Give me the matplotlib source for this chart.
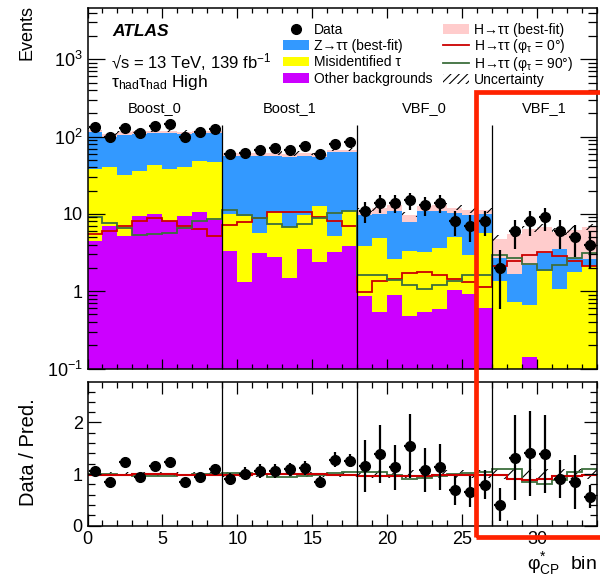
import numpy as np
import matplotlib.pyplot as plt
from matplotlib.patches import Patch, Rectangle
from matplotlib.lines import Line2D
from matplotlib.ticker import MultipleLocator, LogLocator, NullFormatter

plt.rcParams['font.family'] = ['Liberation Sans', 'DejaVu Sans']
plt.rcParams['mathtext.default'] = 'regular'
plt.rcParams['hatch.linewidth'] = 0.8

# 34 phi*_CP bins: Boost_0 (0-8), Boost_1 (9-17), VBF_0 (18-26), VBF_1 (27-33)
regions = ['Boost_0', 'Boost_1', 'VBF_0', 'VBF_1']
region_edges = [0, 9, 18, 27, 34]

data = [133, 98, 129, 111, 138, 147, 98, 113, 125,
        60, 62, 68, 71, 68, 75, 60, 80, 85,
        11, 14, 14, 15, 13, 14, 8, 7, 8,
        2, 6, 8, 9, 6, 5, 4]

other_bkg = [4.4, 6.9, 5.2, 9.5, 10.1, 8.0, 9.3, 10.7, 8.4,
             3.3, 1.3, 3.1, 2.75, 1.46, 3.5, 2.4, 3.2, 3.8,
             0.86, 0.54, 0.88, 0.48, 0.54, 0.58, 1.02, 0.91, 0.61,
             0.08, 0.08, 0.14, 0.08, 0.08, 0.08, 0.08]

misid_tau = [33.7, 33.1, 27.0, 26.8, 33.3, 30.5, 31.2, 37.1, 38.0,
             6.8, 8.2, 2.6, 7.75, 5.3, 6.3, 10.1, 1.9, 7.0,
             2.95, 4.36, 1.76, 2.81, 2.65, 3.06, 4.03, 2.07, 5.08,
             1.27, 0.64, 0.53, 1.72, 0.98, 1.68, 2.02]

ztautau = [78, 60, 74, 73, 68, 72, 68, 63, 64,
           45.4, 47.1, 49.8, 45.0, 47.0, 45.7, 41.3, 57.4, 51.7,
           5.8, 5.1, 8.4, 4.5, 7.8, 7.4, 5.3, 6.8, 4.2,
           1.35, 0.93, 1.53, 1.3, 2.44, 0.9, 0.5]

htautau = [7.0, 6.5, 6.8, 7.2, 7.4, 7.1, 6.8, 7.0, 6.9,
           5.2, 5.4, 5.5, 5.6, 5.6, 5.7, 5.4, 5.3, 5.1,
           1.6, 1.8, 1.8, 2.0, 1.6, 1.8, 1.7, 1.4, 1.3,
           2.1, 3.85, 4.2, 3.7, 2.4, 3.6, 4.2]

# signal-only templates for the two CP hypotheses
sig_phi0 = [5.5, 6.0, 6.9, 8.2, 8.9, 8.0, 6.9, 6.4, 5.1,
            7.1, 7.9, 8.9, 10.5, 10.6, 10.6, 9.1, 8.2, 6.9,
            0.97, 1.35, 1.42, 1.73, 1.78, 1.64, 1.45, 1.31, 1.13,
            2.1, 2.43, 2.96, 3.17, 2.88, 2.43, 2.1]

sig_phi90 = [9.1, 7.7, 6.5, 5.4, 5.5, 5.6, 6.6, 8.0, 8.6,
             11.1, 9.8, 8.9, 7.5, 6.8, 7.5, 8.9, 10.3, 11.0,
             1.62, 1.6, 1.4, 1.2, 1.08, 1.2, 1.35, 1.6, 1.6,
             2.96, 2.7, 2.27, 1.9, 2.2, 2.7, 3.1]

# relative uncertainty on the total prediction
unc_rel = [0.04, 0.04, 0.04, 0.04, 0.04, 0.04, 0.04, 0.04, 0.04,
           0.05, 0.05, 0.05, 0.05, 0.05, 0.05, 0.05, 0.05, 0.05,
           0.07, 0.07, 0.07, 0.07, 0.07, 0.07, 0.07, 0.07, 0.07,
           0.10, 0.10, 0.10, 0.10, 0.10, 0.10, 0.10]

# ratio panel
ratio = [1.06, 0.84, 1.24, 0.94, 1.16, 1.24, 0.84, 0.94, 1.10,
         0.90, 1.01, 1.06, 1.06, 1.09, 1.12, 0.85, 1.28, 1.26,
         1.16, 1.39, 1.13, 1.54, 1.08, 1.14, 0.69, 0.66, 0.79,
         0.41, 1.32, 1.40, 1.39, 0.90, 0.85, 0.56]

ratio_err = [0.08, 0.09, 0.10, 0.09, 0.10, 0.10, 0.09, 0.09, 0.10,
             0.12, 0.12, 0.13, 0.13, 0.13, 0.13, 0.11, 0.14, 0.13,
             0.50, 0.57, 0.44, 0.62, 0.43, 0.44, 0.28, 0.30, 0.28,
             0.32, 0.82, 0.82, 0.76, 0.37, 0.52, 0.22]

ratio_phi0 = [0.99, 0.99, 0.99, 1.00, 1.00, 1.00, 0.99, 0.99, 0.98,
              0.98, 0.99, 1.00, 1.01, 1.01, 1.01, 1.00, 0.99, 0.98,
              0.96, 0.96, 0.97, 0.97, 0.97, 0.98, 0.98, 0.98, 0.99,
              0.99, 0.90, 0.88, 0.90, 0.96, 0.97, 0.98]

ratio_phi90 = [1.01, 1.00, 0.99, 0.97, 0.97, 0.97, 0.98, 1.00, 1.01,
               1.03, 1.02, 1.00, 0.95, 0.95, 0.96, 0.99, 1.03, 1.04,
               1.05, 1.05, 0.99, 0.91, 0.92, 0.96, 1.00, 1.02, 1.05,
               1.09, 1.09, 0.85, 0.80, 0.89, 1.04, 1.09]

C_OTHER = '#cc00ff'
C_MISID = '#ffff00'
C_ZTT = '#3399ff'
C_HTT = '#ffcccc'
C_PHI0 = '#cc0000'
C_PHI90 = '#3d6e3d'

edges = np.arange(len(data) + 1)
centers = edges[:-1] + 0.5
W, H = 600, 578


def fx(px):
    return px / W


def fy(py):
    return 1 - py / H


fig = plt.figure(figsize=(6, 5.78), dpi=100)
ax = fig.add_axes([fx(87.5), fy(368.5), fx(597) - fx(87.5), fy(8) - fy(368.5)])
rax = fig.add_axes([fx(87.5), fy(525.7), fx(597) - fx(87.5), fy(381.7) - fy(525.7)])

# --- main panel: stacked prediction
bottom = np.full(len(data), 1e-3)
for vals, col in [(other_bkg, C_OTHER), (misid_tau, C_MISID),
                  (ztautau, C_ZTT), (htautau, C_HTT)]:
    top = bottom + np.asarray(vals)
    ax.stairs(top, edges, baseline=bottom, fill=True, color=col, lw=0)
    bottom = top
total = bottom - 1e-3
unc = np.asarray(unc_rel)

ax.stairs(total * (1 + unc), edges, baseline=total * (1 - unc), fill=True,
          facecolor='none', edgecolor='black', hatch='//', lw=0)
ax.stairs(sig_phi0, edges, baseline=None, color=C_PHI0, lw=1.3)
ax.stairs(sig_phi90, edges, baseline=None, color=C_PHI90, lw=1.3)
ax.vlines(region_edges[1:-1], 0.1, 140, colors='black', lw=0.9)

data = np.asarray(data, dtype=float)
ax.errorbar(centers, data, yerr=np.sqrt(data), xerr=0.38, fmt='o', color='black',
            ms=7, elinewidth=1.6, capsize=0)

for name, lo, hi in zip(regions, region_edges[:-1], region_edges[1:]):
    ax.text((lo + hi) / 2, 236, name, ha='center', va='center', fontsize=10.5)

ax.set_yscale('log')
ax.set_ylim(0.1, 4600)
ax.set_xlim(0, 34)
ax.set_yticks([0.1, 1, 10, 100, 1000],
              labels=['$10^{-1}$', '1', '10', '$10^{2}$', '$10^{3}$'])
ax.yaxis.set_minor_locator(LogLocator(subs=np.arange(2, 10)))
ax.yaxis.set_minor_formatter(NullFormatter())
ax.xaxis.set_major_locator(MultipleLocator(5))
ax.xaxis.set_minor_locator(MultipleLocator(1))
ax.tick_params(which='both', direction='in', top=True, right=True,
               labelbottom=False, labelsize=13, width=0.9)
ax.tick_params(axis='y', which='major', length=12)
ax.tick_params(axis='y', which='minor', length=6.5)
ax.tick_params(axis='x', which='major', length=7)
ax.tick_params(axis='x', which='minor', length=3.6)

# --- ratio panel
rax.stairs(1 + unc, edges, baseline=1 - unc, fill=True,
           facecolor='none', edgecolor='black', hatch='//', lw=0)
rax.stairs(ratio_phi90, edges, baseline=None, color=C_PHI90, lw=1.3)
rax.stairs(ratio_phi0, edges, baseline=None, color=C_PHI0, lw=1.5)
for b in region_edges[1:-1]:
    rax.axvline(b, color='black', lw=0.9)
rax.errorbar(centers, ratio, yerr=ratio_err, xerr=0.38, fmt='o', color='black',
             ms=7, elinewidth=1.6, capsize=0)
rax.set_xlim(0, 34)
rax.set_ylim(0, 2.79)
rax.set_yticks([0, 1, 2])
rax.yaxis.set_minor_locator(MultipleLocator(0.2))
rax.xaxis.set_major_locator(MultipleLocator(5))
rax.xaxis.set_minor_locator(MultipleLocator(1))
rax.tick_params(which='both', direction='in', top=True, right=True,
                labelsize=13, width=0.9)
rax.tick_params(axis='y', which='major', length=9.4)
rax.tick_params(axis='y', which='minor', length=5)
rax.tick_params(axis='x', which='major', length=8.6)
rax.tick_params(axis='x', which='minor', length=4.3)

for a in (ax, rax):
    for s in a.spines.values():
        s.set_linewidth(1.1)

# axis titles
fig.text(fx(27), fy(5), 'Events', rotation=90, ha='center', va='top', fontsize=13)
fig.text(fx(28), fy(452), 'Data / Pred.', rotation=90, ha='center', va='center',
         fontsize=14.5)
fig.text(fx(597), fy(577), r'$\varphi^{*}_{CP}$  bin', ha='right', va='bottom',
         fontsize=14)

# labels
fig.text(fx(112), fy(31), 'ATLAS', weight='bold', style='italic', fontsize=12.5,
         va='center')
fig.text(fx(111), fy(62), '√s = 13 TeV, 139 fb$^{-1}$', fontsize=12, va='center')
fig.text(fx(111), fy(82), r'$\tau_{had}\tau_{had}$ High', fontsize=12.5, va='center')

leg_kw = dict(frameon=False, loc='upper left', fontsize=10, borderpad=0,
              borderaxespad=0, handlelength=1.9, handleheight=0.7,
              handletextpad=0.35)
h1 = [Line2D([], [], marker='o', color='black', ls='none', ms=7),
      Patch(facecolor=C_ZTT), Patch(facecolor=C_MISID), Patch(facecolor=C_OTHER)]
l1 = ['Data', r'Z→ττ (best-fit)', 'Misidentified τ', 'Other backgrounds']
fig.legend(h1, l1, bbox_to_anchor=(fx(283), fy(23)), labelspacing=0.16, **leg_kw)
h2 = [Patch(facecolor=C_HTT), Line2D([], [], color=C_PHI0, lw=1.3),
      Line2D([], [], color=C_PHI90, lw=1.3),
      Patch(facecolor='none', edgecolor='black', hatch='////', lw=0)]
l2 = ['H→ττ (best-fit)', r'H→ττ ($\varphi_{\tau}$ = 0°)',
      r'H→ττ ($\varphi_{\tau}$ = 90°)', 'Uncertainty']
fig.legend(h2, l2, bbox_to_anchor=(fx(443), fy(23)), labelspacing=0.0, **leg_kw)

# highlight box around the VBF_1 region
fig.add_artist(Rectangle((fx(475.5), fy(537)), fx(700) - fx(475.5), fy(91.5) - fy(537),
                         transform=fig.transFigure, fill=False,
                         edgecolor='#ff2200', lw=3.4, zorder=10))

fig.savefig('out.png', dpi=100)
